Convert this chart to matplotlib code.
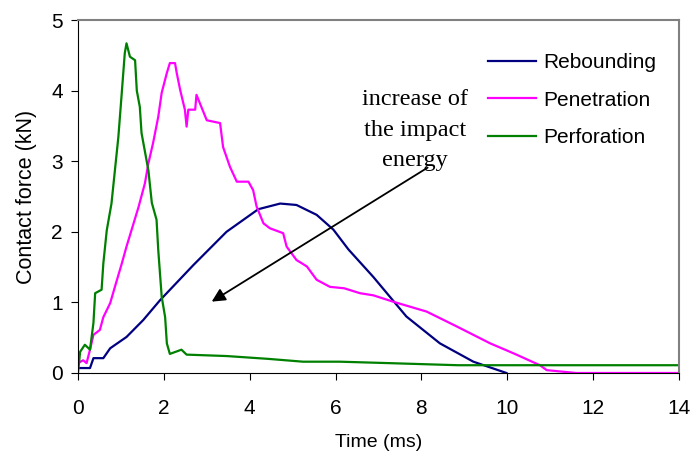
import matplotlib
matplotlib.use('Agg')
import matplotlib.pyplot as plt

plt.rcParams['font.family'] = ['Liberation Sans', 'DejaVu Sans']

# rebounding
reb_t = [0, 0.28, 0.36, 0.59, 0.75, 1.13, 1.52, 1.91, 2.69, 3.46, 4.2, 4.71,
         5.09, 5.56, 5.95, 6.3, 6.88, 7.65, 8.43, 9.21, 9.98]
reb_f = [0.07, 0.07, 0.21, 0.21, 0.35, 0.51, 0.75, 1.03, 1.53, 2.0, 2.32, 2.4,
         2.38, 2.24, 2.03, 1.75, 1.36, 0.8, 0.42, 0.16, 0.0]

# penetration
pen_t = [0, 0.12, 0.2, 0.28, 0.36, 0.51, 0.59, 0.75, 0.86, 1.02, 1.13, 1.25,
         1.41, 1.56, 1.64, 1.75, 1.87, 1.95, 2.07, 2.14, 2.26, 2.30, 2.38, 2.49,
         2.53, 2.57, 2.73, 2.76, 2.84, 3.0, 3.31, 3.38, 3.54, 3.70, 3.97, 4.08,
         4.16, 4.32, 4.47, 4.78, 4.86, 5.09, 5.33, 5.56, 5.87, 6.2, 6.57, 6.88,
         7.34, 8.12, 8.82, 9.6, 10.14, 10.76, 10.92, 11.6, 14.0]
pen_f = [0.14, 0.18, 0.14, 0.33, 0.54, 0.61, 0.79, 0.99, 1.22, 1.55, 1.79, 2.03,
         2.35, 2.69, 2.97, 3.26, 3.63, 3.97, 4.25, 4.39, 4.39, 4.25, 4.01, 3.73,
         3.49, 3.73, 3.73, 3.94, 3.82, 3.58, 3.54, 3.2, 2.92, 2.71, 2.71, 2.59,
         2.36, 2.12, 2.05, 1.98, 1.79, 1.6, 1.51, 1.32, 1.22, 1.2, 1.13, 1.1,
         1.01, 0.87, 0.66, 0.42, 0.28, 0.11, 0.04, 0.0, 0.0]

# perforation
per_t = [0, 0.05, 0.16, 0.28, 0.36, 0.4, 0.55, 0.59, 0.67, 0.78, 0.86, 0.94,
         1.02, 1.09, 1.13, 1.21, 1.33, 1.37, 1.44, 1.48, 1.64, 1.72, 1.83, 1.87,
         1.95, 2.03, 2.07, 2.14, 2.41, 2.53, 3.46, 4.43, 5.24, 6.1, 7.22, 8.85,
         14.0]
per_f = [0.0, 0.3, 0.4, 0.33, 0.71, 1.13, 1.18, 1.55, 2.02, 2.4, 2.87, 3.34,
         3.97, 4.53, 4.67, 4.48, 4.43, 4.0, 3.77, 3.4, 2.87, 2.41, 2.17, 1.74,
         1.08, 0.79, 0.42, 0.27, 0.33, 0.26, 0.24, 0.2, 0.16, 0.16, 0.14, 0.11,
         0.11]

fig = plt.figure(figsize=(6.92, 4.59), dpi=100)
ax = fig.add_axes([0.1127, 0.1874, 0.8685, 0.769])

ax.plot(reb_t, reb_f, color='#000080', lw=1.6, label='Rebounding')
ax.plot(pen_t, pen_f, color='#FF00FF', lw=1.6, label='Penetration')
ax.plot(per_t, per_f, color='#008000', lw=1.6, label='Perforation')

ax.set_xlim(0, 14)
ax.set_ylim(0, 5)
ax.set_xticks(range(0, 15, 2))
ax.set_yticks(range(0, 6))
ax.tick_params(axis='x', labelsize=15, pad=14, length=5)
ax.tick_params(axis='y', labelsize=15, pad=6, length=5)
for s in ['top', 'right']:
    ax.spines[s].set_color('#808080')
    ax.spines[s].set_linewidth(1.5)

ax.set_xlabel('Time (ms)', fontsize=14, labelpad=11)
ax.set_ylabel('Contact force (kN)', fontsize=15.5, labelpad=10)

ax.legend(loc='upper left', bbox_to_anchor=(0.651, 0.96), frameon=False,
          fontsize=15, handlelength=2.3, labelspacing=0.9, handletextpad=0.33)

ax.text(7.85, 3.44, 'increase of\nthe impact\nenergy', family='Liberation Serif',
        fontsize=17.5, ha='center', va='center', linespacing=1.6)
ax.annotate('', xy=(3.06, 0.99), xytext=(8.2, 2.93),
            arrowprops=dict(arrowstyle='-|>', color='black', lw=1.3,
                            mutation_scale=20))

fig.savefig('out.png', dpi=100)
